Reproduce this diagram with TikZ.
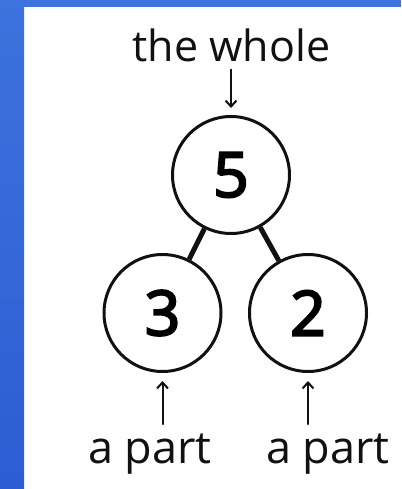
\documentclass[tikz,border=0pt]{standalone}
\usepackage{fontspec}
\setmainfont{Open Sans}
\newfontfamily\cifrafont{Open Sans}[FakeBold=3.5]
\usetikzlibrary{arrows.meta,positioning}
\definecolor{fondotop}{HTML}{3D73DD}
\definecolor{fondobot}{HTML}{2C5DD3}
\definecolor{tinta}{HTML}{111111}

\begin{document}
\begin{tikzpicture}[x=1pt,y=-1pt,>={Straight Barb[length=6pt,width=11pt]},line cap=round]
        \useasboundingbox (0,0) rectangle (401,489);
        \fill[white] (0,0) rectangle (401,489);
        \shade[top color=fondotop,bottom color=fondobot] (0,0) rectangle (24,489);
        \fill[fondotop] (0,0) rectangle (401,7);
        \tikzset{
          bola/.style={circle,draw=tinta,line width=3pt,inner sep=0pt,
                       minimum size=117pt,font=\fontsize{62}{64}\cifrafont},
          rotulo/.style={anchor=base,text=tinta,inner sep=1pt,font=\fontsize{45}{50}\selectfont},
          flecha/.style={->,draw=tinta,line width=2pt}
        }
        \node[bola] (cinco) at (231,175) {5};
        \node[bola] (tres)  at (162.5,313) {3};
        \node[bola] (dos)   at (308,313) {2};
        \draw[tinta,line width=5pt,line cap=butt] (cinco) -- (tres);
        \draw[tinta,line width=5pt,line cap=butt] (cinco) -- (dos);
        \node[rotulo,font=\fontsize{43}{48}\selectfont] (todo) at (231.5,62) {the whole};
        \node[rotulo] (parteA) at (150,463) {a part};
        \node[rotulo] (parteB) at (328,463) {a part};
        \draw[flecha,shorten <=6pt,shorten >=7pt] (todo.south -| cinco) -- (cinco.north);
        \draw[flecha,shorten <=8pt,shorten >=8pt] (parteA.north -| tres) -- (tres.south);
        \draw[flecha,shorten <=8pt,shorten >=8pt] (parteB.north -| dos) -- (dos.south);
      \end{tikzpicture}
\end{document}
